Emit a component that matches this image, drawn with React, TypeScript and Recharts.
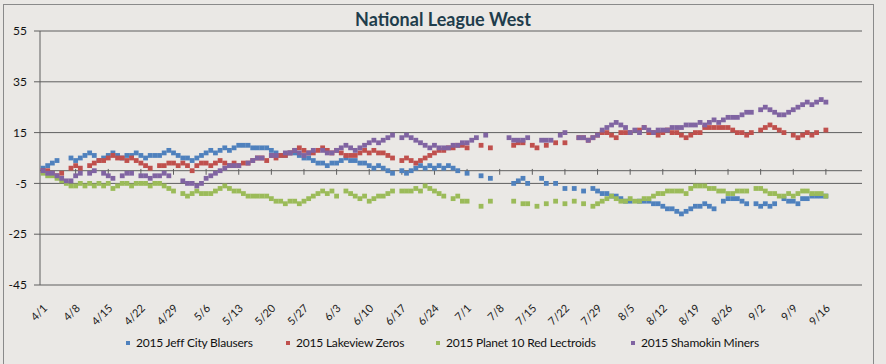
import React from 'react';
import { LineChart, Line, XAxis, YAxis, CartesianGrid, ReferenceLine } from 'recharts';

// day 0 = 4/1, one value per day, null = no game / no point
const jeffCity = [
  1, 2, 3, 4, null, null, 5,
  4, 5, 6, 7, 6, 4, 5,
  6, 7, 6, 5, 6, 6, 7,
  6, 5, 6, 6, 6, 7, 8,
  7, 6, 5, 5, 4, 5, 6,
  7, 8, 7, 8, 9, 8, 9,
  10, 10, 10, 9, 9, 9, 9,
  8, 7, 6, 6, 7, 7, 6,
  5, 5, 4, 3, 3, 2, 3,
  3, 4, 5, 4, 4, 3, 3,
  2, 1, 2, 1, 0, -1, null,
  0, -1, 0, 1, 2, 1, 2,
  1, 2, 1, 2, 1, 0, null,
  -1, null, null, -2, null, -3, null,
  null, null, null, -5, -4, -3, -5,
  null, null, -3, -5, null, -5, null,
  -7, null, -7, null, -8, null, -7,
  -8, -9, -9, -10, -10, -11, -12,
  -12, null, -12, -12, -12, -13, -13,
  -14, -15, -15, -16, -17, -16, -15,
  -14, -14, -13, -14, -15, null, -12,
  -11, -11, -11, -12, -13, null, -13,
  -14, -13, -14, -13, null, -11, -12,
  -12, -13, -11, -11, -10, -10, -10,
  -10,
];

const lakeview = [
  0, 0, -1, -2, -1, null, 1,
  2, 1, null, 2, 3, 4, 4,
  5, 6, 5, 5, 4, 5, 4,
  3, 2, 1, null, 2, 2, 3,
  3, 2, 3, 2, 0, 2, 3,
  3, 2, 3, 4, 3, 2, 3,
  2, 3, 3, 4, 5, 5, 4,
  6, 5, 6, 6, 7, 8, 9,
  8, 7, 7, 8, 9, 8, 7,
  8, 7, 6, 6, 6, 7, 8,
  7, 8, 7, 7, 6, 5, null,
  4, 5, 4, 3, 4, 5, 6,
  7, 8, 8, 9, 9, 10, 10,
  9, null, null, 10, null, 9, null,
  null, null, null, 10, 11, 11, null,
  10, 9, null, 10, null, 11, null,
  11, null, null, 13, 13, 12, 13,
  14, 15, 15, 14, 13, 15, 15,
  15, null, 16, 17, 15, 15, 14,
  15, 16, 15, 15, 14, 13, 14,
  15, 15, 17, 17, 17, 17, 17,
  17, 16, 15, 15, 14, 15, null,
  16, 17, 18, 17, 16, 15, null,
  14, 13, 14, 15, 14, 15, null,
  16,
];

const planet10 = [
  -1, -2, -2, -3, -4, -5, -6,
  -6, -5, -6, -5, -6, -5, -6,
  -5, -7, -6, -5, -5, -6, -5,
  -5, -5, -6, -5, -5, -6, -7,
  -8, null, -9, -10, -9, -8, -9,
  -9, -9, -8, -7, -6, -7, -8,
  -8, -9, -10, -10, -10, -10, -10,
  -11, -12, -12, -13, -12, -12, -13,
  -12, -11, -10, -9, -8, -9, -8,
  -10, null, -8, -9, -10, -11, -10,
  -12, -11, -10, -10, -9, -8, null,
  -8, -8, -8, -7, -8, -6, -7,
  -8, -9, -10, null, -11, -10, -12,
  -12, null, null, -14, null, -12, null,
  null, null, null, -12, null, -13, -13,
  null, -14, null, -13, null, -12, null,
  -13, null, -12, null, -13, null, -14,
  -13, -12, -11, -10, -11, -12, -12,
  -11, -12, -12, -11, -11, -10, -9,
  -9, -8, -8, -8, -8, -9, -7,
  -6, -6, -6, -7, -7, -8, -8,
  -9, -9, -8, -8, -8, null, -7,
  -7, -8, -9, -9, -10, -10, -9,
  -10, -9, -8, -8, -9, -9, -9,
  -10,
];

const shamokin = [
  0, -1, -1, -2, -3, -4, -4,
  -2, -1, null, -1, 0, null, -1,
  -2, -3, null, -2, -1, -1, null,
  -2, -2, -3, -2, -2, -1, -2,
  null, null, -4, -5, -5, -6, -5,
  -3, -2, -1, 0, 1, 2, 2,
  2, null, 3, 4, 5, 5, null,
  6, 6, null, 7, 7, 8, 7,
  6, 7, 8, null, 8, 7, 7,
  8, 9, 10, 9, 8, 9, 10,
  11, 12, 11, 12, 13, 14, null,
  13, 14, 13, 12, 11, 10, 9,
  10, 9, 9, 9, 10, 10, 11,
  11, 12, 13, null, 14, null, null,
  null, null, 13, 12, 12, 12, 13,
  null, null, 12, 12, 12, null, 14,
  15, null, null, 13, 13, 12, 13,
  14, 16, 17, 18, 19, 18, 17,
  15, 16, 15, 17, 16, 15, 16,
  16, 16, 17, 17, 17, 18, 18,
  18, 19, 18, 19, 20, 19, 20,
  21, 21, 21, 22, 23, 23, null,
  24, 25, 24, 23, 22, 22, 23,
  24, 25, 26, 27, 26, 27, 28,
  27,
];

const tickDays = [0, 7, 14, 21, 28, 35, 42, 49, 56, 63, 70, 77, 84, 91, 98, 105, 112, 119, 126, 133, 140, 147, 154, 161, 168];
const tickLabels = ['4/1', '4/8', '4/15', '4/22', '4/29', '5/6', '5/13', '5/20', '5/27', '6/3', '6/10', '6/17', '6/24', '7/1', '7/8', '7/15', '7/22', '7/29', '8/5', '8/12', '8/19', '8/26', '9/2', '9/9', '9/16'];
const yTicks = [-45, -25, -5, 15, 35, 55];

const series = [
  { key: 'jeffCity', label: '2015 Jeff City Blausers', color: '#4f81bd', values: jeffCity, legendX: 126 },
  { key: 'lakeview', label: '2015 Lakeview Zeros', color: '#c0504d', values: lakeview, legendX: 286 },
  { key: 'planet10', label: '2015 Planet 10 Red Lectroids', color: '#9bbb59', values: planet10, legendX: 436 },
  { key: 'shamokin', label: '2015 Shamokin Miners', color: '#8064a2', values: shamokin, legendX: 631 },
];

const data = jeffCity.map((_, i) => {
  const row: Record<string, number | null> = { day: i };
  series.forEach(s => {
    row[s.key] = s.values[i] ?? null;
  });
  return row;
});

const FONT = 'Lato, "Open Sans", sans-serif';
const GRID = '#5f5f5f';

function squareDot(color: string) {
  return (props: any) => {
    const { cx, cy, value, index } = props;
    if (value == null || typeof cy !== 'number' || isNaN(cy)) return <g key={index} />;
    return <rect key={index} x={cx - 2.4} y={cy - 2.4} width={4.8} height={4.8} fill={color} />;
  };
}

function DateTick({ x, y, payload }: any) {
  const i = tickDays.indexOf(payload.value);
  const ax = x + 5;
  const ay = y + 16;
  return (
    <text
      x={ax}
      y={ay}
      transform={`rotate(-45, ${ax}, ${ay})`}
      textAnchor="end"
      fontSize={11}
      fontFamily={FONT}
      fill="#1a1a1a"
    >
      {tickLabels[i]}
    </text>
  );
}

export default function App() {
  return (
    <div
      style={{
        position: 'absolute',
        left: 0,
        top: 0,
        width: 886,
        height: 364,
        background: '#eae8e5',
        fontFamily: FONT,
        overflow: 'hidden',
      }}
    >
      <div
        style={{
          position: 'absolute',
          left: 3,
          top: 4,
          width: 869,
          height: 362,
          border: '1px solid #8a8a8a',
        }}
      />
      <div
        style={{
          position: 'absolute',
          left: 0,
          top: 8,
          width: 886,
          textAlign: 'center',
          fontSize: 18,
          fontWeight: 700,
          color: '#1f3d4c',
        }}
      >
        National League West
      </div>
      <LineChart
        width={886}
        height={364}
        data={data}
        margin={{ top: 31, right: 24, left: 0, bottom: 0 }}
        style={{ position: 'absolute', left: 0, top: 0 }}
      >
        <CartesianGrid horizontal vertical={false} stroke={GRID} strokeWidth={1} />
        <XAxis
          dataKey="day"
          type="number"
          domain={[-0.65, 175.75]}
          ticks={tickDays}
          interval={0}
          height={79}
          axisLine={false}
          tickLine={false}
          tick={<DateTick />}
          allowDataOverflow
        />
        <YAxis
          domain={[-45, 55]}
          ticks={yTicks}
          interval={0}
          width={40}
          axisLine={{ stroke: GRID }}
          tickLine={{ stroke: GRID }}
          tickSize={6}
          tickMargin={7}
          tick={{ fontSize: 12, fill: '#111', fontFamily: FONT }}
          allowDataOverflow
        />
        <ReferenceLine y={0} stroke={GRID} strokeWidth={1} />
        {tickDays.map(d => (
          <ReferenceLine
            key={d}
            segment={[
              { x: d, y: 0.7 },
              { x: d, y: -1.6 },
            ]}
            stroke={GRID}
          />
        ))}
        {series.map(s => (
          <Line
            key={s.key}
            dataKey={s.key}
            type="linear"
            stroke="none"
            dot={squareDot(s.color)}
            activeDot={false}
            isAnimationActive={false}
            connectNulls={false}
          />
        ))}
      </LineChart>
      {series.map(s => (
        <div
          key={s.key}
          style={{
            position: 'absolute',
            left: s.legendX,
            top: 335,
            display: 'flex',
            alignItems: 'center',
            whiteSpace: 'nowrap',
            fontSize: 12,
            letterSpacing: -0.2,
            color: '#111',
          }}
        >
          <span style={{ display: 'inline-block', width: 4, height: 4, background: s.color, marginRight: 6 }} />
          {s.label}
        </div>
      ))}
    </div>
  );
}
